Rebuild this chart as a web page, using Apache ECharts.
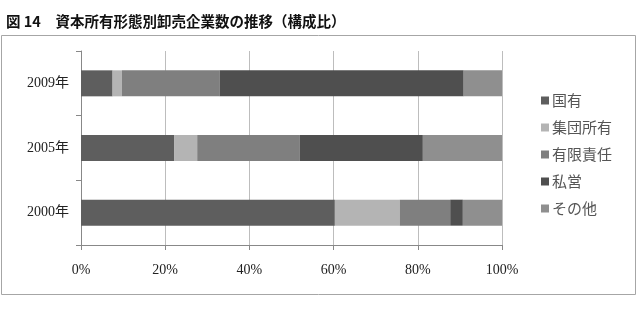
<!DOCTYPE html>
<html><head><meta charset="utf-8">
<script src="https://cdn.jsdelivr.net/npm/echarts@6/dist/echarts.min.js"></script>
<style>html,body{margin:0;padding:0;background:#fff}#c{width:637px;height:323px}</style>
</head><body><div id="c"></div>
<script>
const years = ['2000年', '2005年', '2009年'];
const seriesNames = ['国有', '集団所有', '有限責任', '私営', 'その他'];
const kokuyu = [60.3, 22.1, 7.5];
const shudan = [15.4, 5.5, 2.2];
const yugen = [12.0, 24.3, 23.2];
const shiei = [3.0, 29.3, 58.0];
const sonota = [9.3, 18.8, 9.1];
const xTicks = [0, 20, 40, 60, 80, 100];
const values = [kokuyu, shudan, yugen, shiei, sonota];
const colors = ['#5e5e5e', '#b4b4b4', '#7f7f7f', '#4f4f4f', '#8f8f8f'];

const chart = echarts.init(document.getElementById('c'));
chart.setOption({
  animation: false,
  title: {
    text: '図 14　資本所有形態別卸売企業数の推移（構成比）',
    left: 1, top: 9,
    textStyle: {fontSize: 14.5, fontWeight: 'bold', color: '#111', fontFamily: 'Noto Sans CJK JP'}
  },
  graphic: [{
    type: 'rect', shape: {x: 1.5, y: 35.5, width: 634, height: 259},
    style: {fill: 'none', stroke: '#a6a6a6', lineWidth: 1}, z: -1
  }],
  grid: {left: 81, right: 135, top: 51, bottom: 78},
  legend: {
    orient: 'vertical', left: 536, top: 88, itemGap: 12,
    itemWidth: 8, itemHeight: 8, icon: 'rect',
    textStyle: {fontSize: 15, color: '#555', fontFamily: 'Noto Sans CJK JP', padding: [0,0,0,-2]},
    data: seriesNames
  },
  xAxis: {
    type: 'value', min: 0, max: 100, interval: 20,
    axisLine: {show: true, lineStyle: {color: '#888'}},
    axisTick: {show: true, length: 5, lineStyle: {color: '#888'}},
    splitLine: {lineStyle: {color: '#bdbdbd'}},
    axisLabel: {formatter: v => xTicks.includes(v) ? v + '%' : '', margin: 18, fontSize: 14, color: '#222', fontFamily: 'Liberation Serif'}
  },
  yAxis: {
    type: 'category', data: years,
    axisLine: {show: true, lineStyle: {color: '#888'}},
    axisTick: {show: true, length: 5, lineStyle: {color: '#888'}},
    axisLabel: {margin: 12, fontSize: 14, color: '#222', fontFamily: 'Liberation Serif, Noto Sans CJK JP'}
  },
  series: seriesNames.map((n, i) => ({
    name: n, type: 'bar', stack: 'total', barWidth: 26,
    itemStyle: {color: colors[i]},
    data: values[i]
  }))
});
</script></body></html>
